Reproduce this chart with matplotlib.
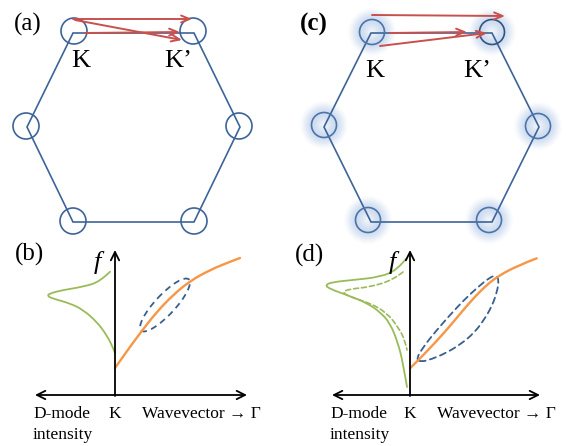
import numpy as np
import matplotlib
matplotlib.use("Agg")
import matplotlib.pyplot as plt
from matplotlib.patches import Circle, Ellipse, Polygon, PathPatch
from matplotlib.path import Path

# everything below is laid out in pixel units, y pointing down
W, H = 568, 446

# Brillouin-zone hexagons
hex_a_x = [73, 194, 240, 194, 73, 27]
hex_a_y = [33, 33, 127, 222, 222, 127]
hex_c_x = [371, 492, 539, 492, 371, 324]
hex_c_y = [33, 33, 127, 222, 222, 127]

# K / K' valley circles
circ_a_x = [74, 193, 26, 239, 73, 194]
circ_a_y = [31, 31, 126, 126, 221, 221]
circ_c_x = [372, 492, 324, 538, 368, 489]
circ_c_y = [32, 32, 125, 126, 220, 220]

# intervalley scattering arrows (start x, start y, end x, end y)
arr_a = [(73, 19, 192, 19), (85, 33, 180, 32), (75, 20, 182, 40)]
arr_c = [(372, 15, 505, 16), (390, 33, 467, 32), (380, 46, 487, 33)]

# phonon dispersion near K
disp_b_x = [115, 127, 141.7, 156.7, 173, 190, 210, 226.7, 240]
disp_b_y = [368, 351, 331, 312, 295, 281, 270, 263, 258]
disp_d_x = [410, 420, 430, 441.7, 453.3, 463.3, 473.3, 485, 496.7, 516.7, 536.7]
disp_d_y = [368.3, 358.5, 348, 335.5, 322, 310, 298.5, 286.5, 277, 266, 258.3]

# D-mode intensity profiles
dmode_b_x = [110, 100, 83.3, 63.3, 50, 47.3, 51.7, 70, 83.3, 96.7, 106.7, 113.3, 115]
dmode_b_y = [271.7, 281.7, 286.7, 290, 293.3, 295.7, 298.3, 303.3, 310, 321.7, 335, 348.3, 353]
dmode_d_x = [406, 397, 380, 353, 333, 325, 330, 347, 367, 380, 390, 398, 403, 407]
dmode_d_y = [259, 270, 277, 280, 282, 285, 289, 295, 303, 312, 323, 343, 363, 387]
dmode_d2_x = [403, 393, 370, 350, 342, 350, 370, 387, 398, 405, 407]
dmode_d2_y = [272, 280, 287, 289, 292, 297, 303, 313, 327, 340, 350]

# phonons taking part in the scattering
ell_b = (165, 305, 70, 20, -47)          # cx, cy, width, height, angle
loop_d_x = [416, 424, 436, 450, 464, 478, 489, 496, 499, 497, 492, 484, 474,
            461, 446, 432, 421]
loop_d_y = [359, 346, 331, 315, 300, 287, 278, 275, 280, 292, 306, 320, 333,
            344, 353, 359, 362]

BLUE = "#3d6499"
RED = "#c8504d"
GREEN = "#9bbb59"
ORANGE = "#f79646"
DASH = "#3a5f8f"
SERIF = ["Liberation Serif", "DejaVu Serif"]


def glow(ax, cx, cy, r_out=25):
    g = np.linspace(-r_out, r_out, 121)
    X, Y = np.meshgrid(g, g)
    R = np.hypot(X, Y)
    a = 0.45 * np.exp(-((R - 12) / 10) ** 2) * np.clip(1 - (R / r_out) ** 6, 0, 1)
    a = np.maximum(a, 0.15 * np.clip(1 - R / 14, 0, 1) * (R > 4))
    img = np.zeros((121, 121, 4))
    img[..., 0], img[..., 1], img[..., 2] = 0.58, 0.70, 0.87
    img[..., 3] = a
    ax.imshow(img, extent=(cx - r_out, cx + r_out, cy + r_out, cy - r_out),
              interpolation="bilinear", zorder=1)


def smooth(ax, xs, ys, closed=False, **kw):
    # quadratic curve using the read points as control vertices
    pts = np.column_stack([xs, ys]).astype(float)
    if closed:
        start = (pts[-1] + pts[0]) / 2
        verts, codes = [start], [Path.MOVETO]
        for i in range(len(pts)):
            verts += [pts[i], (pts[i] + pts[(i + 1) % len(pts)]) / 2]
            codes += [Path.CURVE3, Path.CURVE3]
    else:
        verts, codes = [pts[0]], [Path.MOVETO]
        for i in range(1, len(pts) - 1):
            verts += [pts[i], (pts[i] + pts[i + 1]) / 2]
            codes += [Path.CURVE3, Path.CURVE3]
        verts[-1] = pts[-1]
    ax.add_patch(PathPatch(Path(verts, codes), fill=False, capstyle="round", **kw))


def arrow(ax, x0, y0, x1, y1, color, lw, style):
    ax.annotate("", xy=(x1, y1), xytext=(x0, y0),
                arrowprops=dict(arrowstyle=style, color=color, lw=lw,
                                shrinkA=0, shrinkB=0), zorder=5)


fig = plt.figure(figsize=(W / 100, H / 100), dpi=100)
ax = fig.add_axes([0, 0, 1, 1])

# top row: hexagons with valleys
for hx, hy, cx, cy, arrs, glowing in [
        (hex_a_x, hex_a_y, circ_a_x, circ_a_y, arr_a, False),
        (hex_c_x, hex_c_y, circ_c_x, circ_c_y, arr_c, True)]:
    ax.add_patch(Polygon(list(zip(hx, hy)), closed=True, fill=False,
                         ec=BLUE, lw=1.2, zorder=2))
    for i, (x, y) in enumerate(zip(cx, cy)):
        if glowing:
            glow(ax, x, y)
            ec = "#2f5482" if i == 1 else "#4a74aa"
        else:
            ec = BLUE
        ax.add_patch(Circle((x, y), 12.5 if glowing else 13, fill=False,
                            ec=ec, lw=1.2, zorder=3))
    for a in arrs:
        arrow(ax, *a, RED, 1.4, "->,head_length=0.6,head_width=0.25")

# bottom row: dispersion + D-mode panels
for x0, xl, xr, disp_x, disp_y in [
        (115, 35, 247, disp_b_x, disp_b_y),
        (410, 332, 540, disp_d_x, disp_d_y)]:
    arrow(ax, xl, 395, xr, 395, "black", 1.3, "<->,head_length=0.6,head_width=0.3")
    arrow(ax, x0, 396, x0, 250, "black", 1.3, "->,head_length=0.6,head_width=0.3")
    smooth(ax, disp_x, disp_y, ec=ORANGE, lw=1.7, zorder=4)
    ax.text(x0 - 18, 262, "f", family=SERIF, style="italic", fontsize=19,
            ha="center", va="center")
    ax.text(x0, 414, "K", family=SERIF, fontsize=12.5, ha="center", va="center")
    ax.text(xl - 2, 414, "D-mode", family=SERIF, fontsize=12.5, ha="left", va="center")
    ax.text(xl - 2, 435, "intensity", family=SERIF, fontsize=12.5, ha="left", va="center")
    ax.text(x0 + 27, 414, "Wavevector \u2192 \u0393", family=SERIF, fontsize=12.5,
            ha="left", va="center")

cxe, cye, we, he, ang = ell_b
ax.add_patch(Ellipse((cxe, cye), we, he, angle=ang, fill=False, ec=DASH,
                     lw=1.3, ls=(0, (3.5, 2.5)), zorder=3))
smooth(ax, loop_d_x, loop_d_y, closed=True, ec=DASH, lw=1.3,
       ls=(0, (3.5, 2.5)), zorder=3)

smooth(ax, dmode_b_x, dmode_b_y, ec=GREEN, lw=1.3)
smooth(ax, dmode_d_x, dmode_d_y, ec=GREEN, lw=1.3)
smooth(ax, dmode_d2_x, dmode_d2_y, ec=GREEN, lw=1.2, ls=(0, (3, 1.8)))

# valley labels
for x, y, s in [(81, 61, "K"), (178, 61, "K\u2019"), (375, 71, "K"), (477, 71, "K\u2019")]:
    ax.text(x, y, s, family=SERIF, fontsize=19, ha="center", va="center")

# panel letters
for x, y, s, wt in [(28, 24, "(a)", "normal"), (314, 24, "(c)", "bold"),
                    (30, 254, "(b)", "normal"), (309, 255, "(d)", "normal")]:
    ax.text(x, y, s, family=SERIF, fontsize=18, weight=wt, ha="center", va="center")

ax.set_xlim(0, W)
ax.set_ylim(H, 0)
ax.set_aspect("auto")
ax.axis("off")
fig.savefig("out.png", dpi=100)
